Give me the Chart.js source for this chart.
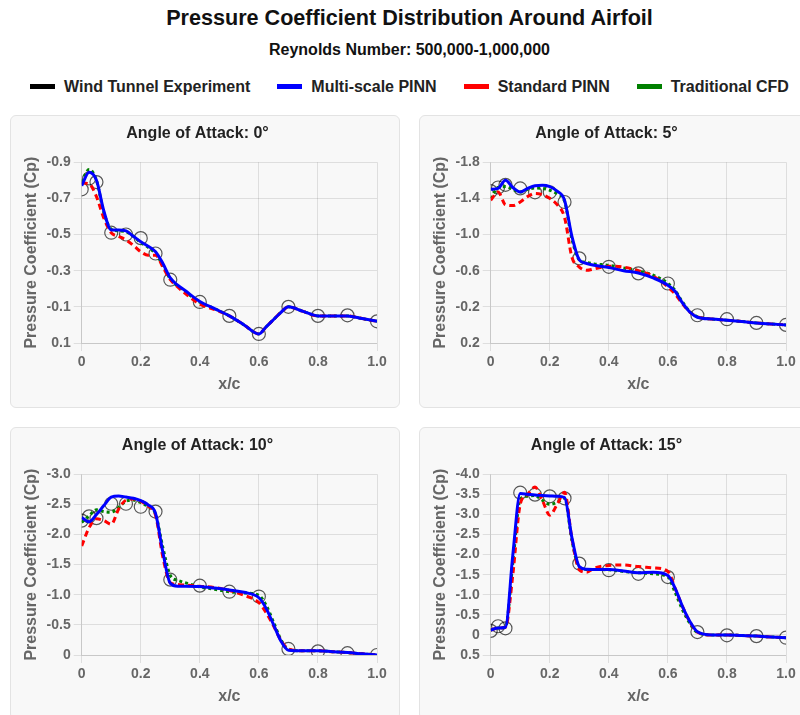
<!DOCTYPE html>
<html lang="en">
<head>
<meta charset="UTF-8">
<title>Pressure Coefficient Distribution Around Airfoil</title>
<style>
  html, body { margin: 0; padding: 0; overflow: hidden; background: #fff; }
  body { font-family: Arial, "Liberation Sans", sans-serif; }
  .page { width: 819px; }
  .title { height: 36px; line-height: 36px; text-align: center; font-weight: bold; font-size: 21.6px; color: #111; }
  .subtitle { height: 28px; line-height: 28px; text-align: center; font-weight: bold; font-size: 16px; color: #111; }
  .legend { height: 46px; display: flex; justify-content: center; align-items: center; gap: 27px; font-weight: bold; font-size: 16px; color: #222; }
  .legend .sw { display: inline-block; width: 25px; height: 5px; margin-right: 9px; vertical-align: middle; position: relative; top: -1px; }
  .grid { margin: 5px 0 0 10px; display: grid; grid-template-columns: 390px 390px; grid-auto-rows: 293px; gap: 19px; }
  .card { position: relative; box-sizing: border-box; border: 1px solid #e3e3e3; border-radius: 6px; background: #f8f8f8; }
  .card canvas { position: absolute; left: 0; top: 0; }
</style>
</head>
<body>
<div class="page">
  <div class="title">Pressure Coefficient Distribution Around Airfoil</div>
  <div class="subtitle">Reynolds Number: 500,000-1,000,000</div>
  <div class="legend">
    <div><span class="sw" style="background:#000"></span>Wind Tunnel Experiment</div>
    <div><span class="sw" style="background:blue"></span>Multi-scale PINN</div>
    <div><span class="sw" style="background:red"></span>Standard PINN</div>
    <div><span class="sw" style="background:green"></span>Traditional CFD</div>
  </div>
  <div class="grid">
    <div class="card"><canvas id="aoa0" width="388" height="291"></canvas></div>
    <div class="card"><canvas id="aoa5" width="388" height="291"></canvas></div>
    <div class="card"><canvas id="aoa10" width="388" height="291"></canvas></div>
    <div class="card"><canvas id="aoa15" width="388" height="291"></canvas></div>
  </div>
</div>

<script src="https://cdn.jsdelivr.net/npm/chart.js"></script>
<script>
  // chordwise stations
  const xGrid = [0, 0.025, 0.05, 0.075, 0.1, 0.125, 0.15, 0.175, 0.2, 0.225, 0.25, 0.275, 0.3, 0.325, 0.35,
                 0.4, 0.45, 0.5, 0.55, 0.6, 0.625, 0.65, 0.675, 0.7, 0.75, 0.8, 0.85, 0.9, 0.95, 1.0];
  const xExp = [0, 0.025, 0.05, 0.1, 0.15, 0.2, 0.25, 0.3, 0.4, 0.5, 0.6, 0.7, 0.8, 0.9, 1.0];
  const xTicks = [0, 0.2, 0.4, 0.6, 0.8, 1.0];

  // AoA 0
  const exp0 = [-0.75, -0.81, -0.79, -0.51, -0.50, -0.48, -0.395, -0.25, -0.127, -0.05, 0.05, -0.10, -0.05, -0.053, -0.02];
  const ms0 = [-0.77, -0.845, -0.80, -0.63, -0.525, -0.525, -0.52, -0.49, -0.46, -0.435, -0.405, -0.34, -0.26, -0.22, -0.19,
               -0.13, -0.09, -0.05, 0.0, 0.05, 0.01, -0.03, -0.07, -0.10, -0.075, -0.05, -0.05, -0.05, -0.035, -0.02];
  const std0 = [-0.785, -0.78, -0.71, -0.59, -0.51, -0.49, -0.47, -0.44, -0.405, -0.386, -0.386, -0.32, -0.25, -0.21, -0.175,
                -0.115, -0.085, -0.05, 0.0, 0.05, 0.01, -0.03, -0.07, -0.10, -0.075, -0.05, -0.05, -0.05, -0.035, -0.02];
  const cfd0 = [-0.79, -0.86, -0.80, -0.62, -0.53, -0.52, -0.515, -0.49, -0.455, -0.43, -0.395, -0.33, -0.255, -0.215, -0.185,
                -0.125, -0.09, -0.05, 0.0, 0.05, 0.01, -0.03, -0.07, -0.10, -0.075, -0.05, -0.05, -0.05, -0.035, -0.02];
  const yTicks0 = [-0.9, -0.7, -0.5, -0.3, -0.1, 0.1];

  // AoA 5
  const exp5 = [-1.48, -1.52, -1.55, -1.51, -1.467, -1.467, -1.36, -0.736, -0.643, -0.57, -0.458, -0.107, -0.063, -0.022, 0.0];
  const ms5 = [-1.50, -1.51, -1.60, -1.52, -1.47, -1.51, -1.54, -1.545, -1.53, -1.48, -1.38, -0.98, -0.72, -0.68, -0.66,
               -0.635, -0.60, -0.575, -0.52, -0.44, -0.37, -0.24, -0.14, -0.085, -0.065, -0.052, -0.038, -0.022, -0.01, 0.0];
  const std5 = [-1.38, -1.47, -1.33, -1.32, -1.36, -1.42, -1.455, -1.44, -1.40, -1.33, -1.19, -0.75, -0.64, -0.605, -0.62,
                -0.65, -0.64, -0.60, -0.54, -0.42, -0.34, -0.23, -0.14, -0.09, -0.065, -0.052, -0.038, -0.022, -0.01, 0.0];
  const cfd5 = [-1.40, -1.52, -1.53, -1.50, -1.47, -1.50, -1.515, -1.51, -1.49, -1.45, -1.37, -0.95, -0.72, -0.69, -0.675,
                -0.66, -0.63, -0.60, -0.55, -0.46, -0.38, -0.25, -0.145, -0.09, -0.065, -0.052, -0.038, -0.022, -0.01, 0.0];
  const yTicks5 = [-1.8, -1.4, -1.0, -0.6, -0.2, 0.2];

  // AoA 10
  const exp10 = [-2.23, -2.30, -2.27, -2.51, -2.51, -2.46, -2.38, -1.25, -1.15, -1.05, -0.97, -0.10, -0.06, -0.03, 0.0];
  const ms10 = [-2.28, -2.21, -2.33, -2.48, -2.62, -2.64, -2.62, -2.60, -2.56, -2.49, -2.35, -1.70, -1.19, -1.14, -1.14,
                -1.135, -1.11, -1.08, -1.04, -0.95, -0.77, -0.50, -0.23, -0.08, -0.07, -0.07, -0.055, -0.04, -0.02, 0.0];
  const std10 = [-1.81, -2.11, -2.26, -2.23, -2.17, -2.42, -2.57, -2.59, -2.55, -2.47, -2.32, -1.62, -1.20, -1.17, -1.16,
                 -1.14, -1.12, -1.07, -0.99, -0.87, -0.70, -0.48, -0.24, -0.10, -0.07, -0.07, -0.055, -0.04, -0.02, 0.0];
  const cfd10 = [-2.20, -2.31, -2.41, -2.38, -2.37, -2.45, -2.55, -2.57, -2.53, -2.46, -2.34, -1.78, -1.32, -1.24, -1.20,
                 -1.13, -1.09, -1.05, -1.03, -0.99, -0.82, -0.54, -0.25, -0.09, -0.07, -0.07, -0.055, -0.04, -0.02, 0.0];
  const yTicks10 = [-3.0, -2.5, -2.0, -1.5, -1.0, -0.5, 0];

  // AoA 15
  const exp15 = [-0.10, -0.215, -0.165, -3.54, -3.49, -3.45, -3.40, -1.775, -1.61, -1.52, -1.44, -0.07, 0.01, 0.03, 0.07];
  const ms15 = [-0.12, -0.17, -0.19, -2.00, -3.52, -3.50, -3.48, -3.47, -3.46, -3.45, -3.42, -2.42, -1.70, -1.635, -1.63,
                -1.625, -1.59, -1.55, -1.56, -1.48, -1.15, -0.70, -0.33, -0.08, 0.0, 0.0, 0.015, 0.03, 0.05, 0.07];
  const std15 = [-0.12, -0.17, -0.19, -1.50, -3.25, -3.50, -3.68, -3.35, -2.98, -3.25, -3.55, -2.40, -1.62, -1.56, -1.66,
                 -1.73, -1.74, -1.70, -1.67, -1.58, -1.15, -0.70, -0.32, -0.07, 0.0, 0.0, 0.015, 0.03, 0.05, 0.07];
  const cfd15 = [-0.12, -0.17, -0.19, -1.80, -3.38, -3.45, -3.47, -3.35, -3.25, -3.30, -3.40, -2.35, -1.68, -1.63, -1.63,
                 -1.62, -1.58, -1.55, -1.52, -1.44, -1.05, -0.62, -0.28, -0.06, 0.0, 0.0, 0.015, 0.03, 0.05, 0.07];
  const yTicks15 = [-4.0, -3.5, -3.0, -2.5, -2.0, -1.5, -1.0, -0.5, 0, 0.5];

  Chart.defaults.font.family = 'Arial, "Liberation Sans", sans-serif';

  const fmt = v => (Math.abs(v) < 1e-9 ? '0' : v.toFixed(1));
  const pts = (xs, ys) => xs.map((x, i) => ({ x: x, y: ys[i] }));

  function makePanel(id, angle, exp, ms, std, cfd, yTicks) {
    new Chart(document.getElementById(id), {
      type: 'line',
      data: {
        datasets: [
          {
            label: 'Multi-scale PINN', data: pts(xGrid, ms), borderColor: 'blue', borderWidth: 3,
            pointRadius: 0, cubicInterpolationMode: 'monotone', order: 1
          },
          {
            label: 'Standard PINN', data: pts(xGrid, std), borderColor: 'red', borderWidth: 3, borderDash: [6, 4],
            pointRadius: 0, cubicInterpolationMode: 'monotone', order: 2
          },
          {
            label: 'Traditional CFD', data: pts(xGrid, cfd), borderColor: 'green', borderWidth: 3, borderDash: [3, 3],
            pointRadius: 0, cubicInterpolationMode: 'monotone', order: 3
          },
          {
            label: 'Wind Tunnel Experiment', data: pts(xExp, exp), showLine: false,
            pointRadius: 6.5, pointBorderWidth: 1.2, pointBorderColor: 'rgba(0,0,0,0.65)',
            pointBackgroundColor: 'rgba(0,0,0,0)', order: 4
          }
        ]
      },
      options: {
        responsive: false,
        animation: false,
        layout: { padding: { left: 7, right: 22, top: 0, bottom: 9 } },
        plugins: {
          legend: { display: false },
          tooltip: { enabled: false },
          title: {
            display: true, text: 'Angle of Attack: ' + angle + '°', color: '#222',
            font: { size: 16, weight: 'bold' }, padding: { top: 8, bottom: 19 }
          }
        },
        scales: {
          x: {
            type: 'linear', min: 0, max: 1,
            afterBuildTicks: s => { s.ticks = xTicks.map(v => ({ value: v })); },
            afterFit: s => { s.height = 55; },
            ticks: { callback: fmt, color: '#666', font: { size: 14, weight: 'bold' }, maxRotation: 0 },
            title: { display: true, text: 'x/c', color: '#666', font: { size: 16, weight: 'bold' } }
          },
          y: {
            reverse: true, min: yTicks[0], max: yTicks[yTicks.length - 1],
            afterBuildTicks: s => { s.ticks = yTicks.map(v => ({ value: v })); },
            afterFit: s => { s.width = 63.7; },
            ticks: { callback: fmt, color: '#666', font: { size: 14, weight: 'bold' } },
            title: { display: true, text: 'Pressure Coefficient (Cp)', color: '#666', font: { size: 16, weight: 'bold' } }
          }
        }
      }
    });
  }

  makePanel('aoa0', 0, exp0, ms0, std0, cfd0, yTicks0);
  makePanel('aoa5', 5, exp5, ms5, std5, cfd5, yTicks5);
  makePanel('aoa10', 10, exp10, ms10, std10, cfd10, yTicks10);
  makePanel('aoa15', 15, exp15, ms15, std15, cfd15, yTicks15);
</script>
</body>
</html>
